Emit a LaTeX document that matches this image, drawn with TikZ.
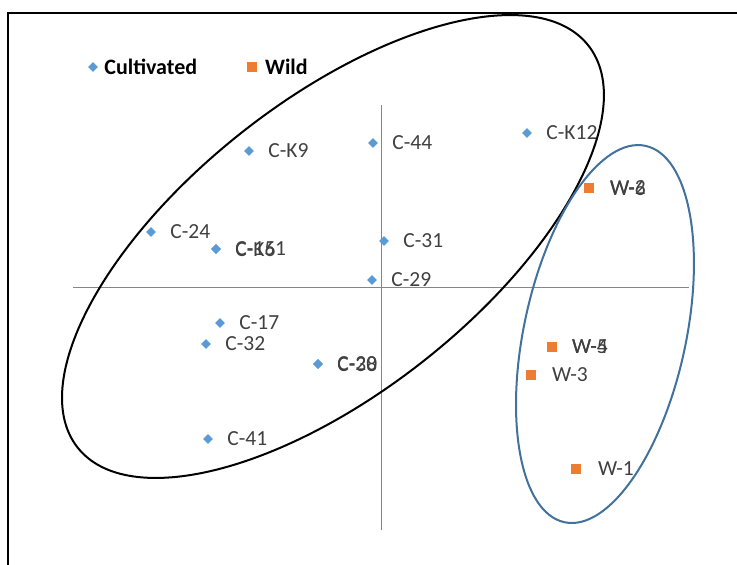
\documentclass[tikz,border=0pt]{standalone}
\usepackage{fontspec}
\setmainfont{Carlito}
\usetikzlibrary{positioning,shapes.geometric}
\definecolor{cultblue}  {RGB}{ 91,155,213}
\definecolor{wildorange}{RGB}{237,125, 49}
\definecolor{ringblue}  {RGB}{ 65,113,156}
\definecolor{axisgray}  {RGB}{134,134,134}
\definecolor{lblgray}   {RGB}{ 64, 64, 64}
\tikzset{
  cult/.style={diamond,fill=cultblue,inner sep=0pt,minimum size=10pt},
  wild/.style={rectangle,fill=wildorange,inner sep=0pt,minimum size=9.5pt},
  lbl/.style={font=\fontsize{21.5}{25}\selectfont,text=lblgray,inner sep=0pt},
  leg/.style={font=\fontsize{22}{26}\selectfont\bfseries,text=black,inner sep=0pt},
  axisline/.style={draw=axisgray,line width=1pt},
  ring/.style={line width=2pt},
}
\begin{document}
\begin{tikzpicture}[x=1pt,y=1pt]
  \useasboundingbox (0,0) rectangle (737,-565);
  % Frame
  \coordinate (frtl) at (8,-13);
  \coordinate (frtr) at (737,-13);
  \coordinate (frbl) at (8,-565);
  \draw[line width=1.2pt] (frbl) -- (frtl) -- (frtr);
  % Axes
  \coordinate (axl) at (73,-287);
  \coordinate (axr) at (689,-287);
  \coordinate (axt) at (381,-105);
  \coordinate (axb) at (381,-530);
  \draw[axisline] (axl) -- (axr);
  \draw[axisline] (axt) -- (axb);
  % Legend
  \node[cult](legc) at (93,-67){};
  \node[leg,right=6pt of legc](legct){Cultivated};
  \node[wild](legw) at (252,-67){};
  \node[leg,right=8pt of legw](legwt){Wild};
  % Cultivated
  \node[cult](cK9)  at (249,-151){};
  \node[cult](c44)  at (373,-143){};
  \node[cult](cK12) at (527,-133){};
  \node[cult](c24)  at (151,-232){};
  \node[cult](cK6)  at (216,-249){};
  \node[cult](c151) at (216,-249){};
  \node[cult](c31)  at (384,-241){};
  \node[cult](c29)  at (372,-280){};
  \node[cult](c17)  at (220,-323){};
  \node[cult](c32)  at (206,-344){};
  \node[cult](c20)  at (318,-364){};
  \node[cult](c38)  at (318,-364){};
  \node[cult](c41)  at (208,-439){};
  \node[lbl,right=14pt of cK9](cK9l){C-K9};
  \node[lbl,right=14pt of c44](c44l){C-44};
  \node[lbl,right=14pt of cK12](cK12l){C-K12};
  \node[lbl,right=14pt of c24](c24l){C-24};
  \node[lbl,right=14pt of cK6](cK6l){C-K6};
  \node[lbl,right=14pt of c151](c151l){C-151};
  \node[lbl,right=14pt of c31](c31l){C-31};
  \node[lbl,right=14pt of c29](c29l){C-29};
  \node[lbl,right=14pt of c17](c17l){C-17};
  \node[lbl,right=14pt of c32](c32l){C-32};
  \node[lbl,right=14pt of c20](c20l){C-20};
  \node[lbl,right=14pt of c38](c38l){C-38};
  \node[lbl,right=14pt of c41](c41l){C-41};
  % Wild
  \node[wild](w2) at (589,-188){};
  \node[wild](w6) at (589,-188){};
  \node[wild](w4) at (552,-347){};
  \node[wild](w5) at (552,-347){};
  \node[wild](w3) at (531,-375){};
  \node[wild](w1) at (576,-469){};
  \node[lbl,right=16pt of w2](w2l){W-2};
  \node[lbl,right=16pt of w6](w6l){W-6};
  \node[lbl,right=15pt of w4](w4l){W-4};
  \node[lbl,right=15pt of w5](w5l){W-5};
  \node[lbl,right=16pt of w3](w3l){W-3};
  \node[lbl,right=17pt of w1](w1l){W-1};
  % Groups
  \coordinate (gc) at (333,-246.5);
  \coordinate (gw) at (605,-334);
  \draw[ring,rotate around={38.2:(gc)}] (gc) ellipse [x radius=325pt,y radius=146pt];
  \draw[ring,draw=ringblue,rotate around={77.85:(gw)}] (gw) ellipse [x radius=192.5pt,y radius=81pt];
\end{tikzpicture}
\end{document}
